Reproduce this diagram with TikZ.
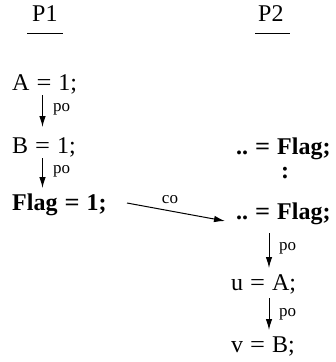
\documentclass[tikz,border=0pt]{standalone}
\usepackage{fontspec}
\setmainfont{Liberation Serif}
\usetikzlibrary{arrows.meta}
\newcommand{\eqsign}{\hspace{7pt}\scalebox{1.1}[1]{=}\hspace{7pt}}
\begin{document}
\begin{tikzpicture}[x=1pt,y=-1pt,
  txt/.style={font=\fontsize{24}{28}\selectfont, inner sep=0pt, anchor=base west},
  btxt/.style={font=\fontsize{24}{28}\selectfont\bfseries, inner sep=0pt, anchor=base west},
  lbl/.style={font=\fontsize{17}{19}\selectfont, inner sep=0pt, anchor=base west},
  arr/.style={-{Latex[length=11pt,width=6.5pt]}, line width=1pt},
  ul/.style={line width=1pt}]
\useasboundingbox (0,0) rectangle (336,362);
\node[txt] (p1) at (32,21) {P1};
\node[txt] (p2) at (258,21) {P2};
\coordinate (u1a) at (27,33); \coordinate (u1b) at (63,33);
\coordinate (u2a) at (255,33); \coordinate (u2b) at (290,33);
\draw[ul] (u1a) -- (u1b);
\draw[ul] (u2a) -- (u2b);
\node[txt] (a) at (12,90) {A\eqsign 1;};
\node[txt] (b) at (12,153) {B\eqsign 1;};
\node[btxt] (f) at (12,210) {Flag\eqsign 1;};
\node[btxt] (r1) at (236,154) {..\eqsign Flag;};
\node[btxt] (dots) at (281,178) {:};
\node[btxt] (r2) at (236,219) {..\eqsign Flag;};
\node[txt] (u) at (231,290) {u\eqsign A;};
\node[txt] (v) at (231,352) {v\eqsign B;};
\coordinate (a1) at (42.5,95); \coordinate (a2) at (42.5,127);
\coordinate (b1) at (42.5,158); \coordinate (b2) at (42.5,188);
\coordinate (c1) at (269,233); \coordinate (c2) at (269,268);
\coordinate (d1) at (269,298); \coordinate (d2) at (269,330);
\coordinate (e1) at (127,203); \coordinate (e2) at (225,221);
\draw[arr] (a1) -- (a2);
\draw[arr] (b1) -- (b2);
\draw[arr] (c1) -- (c2);
\draw[arr] (d1) -- (d2);
\draw[arr] (e1) -- (e2);
\node[lbl] (l1) at (53,111) {po};
\node[lbl] (l2) at (53,173) {po};
\node[lbl] (l3) at (279,250) {po};
\node[lbl] (l4) at (279,316) {po};
\node[lbl, anchor=base] (co) at (170,203) {co};
\end{tikzpicture}
\end{document}
